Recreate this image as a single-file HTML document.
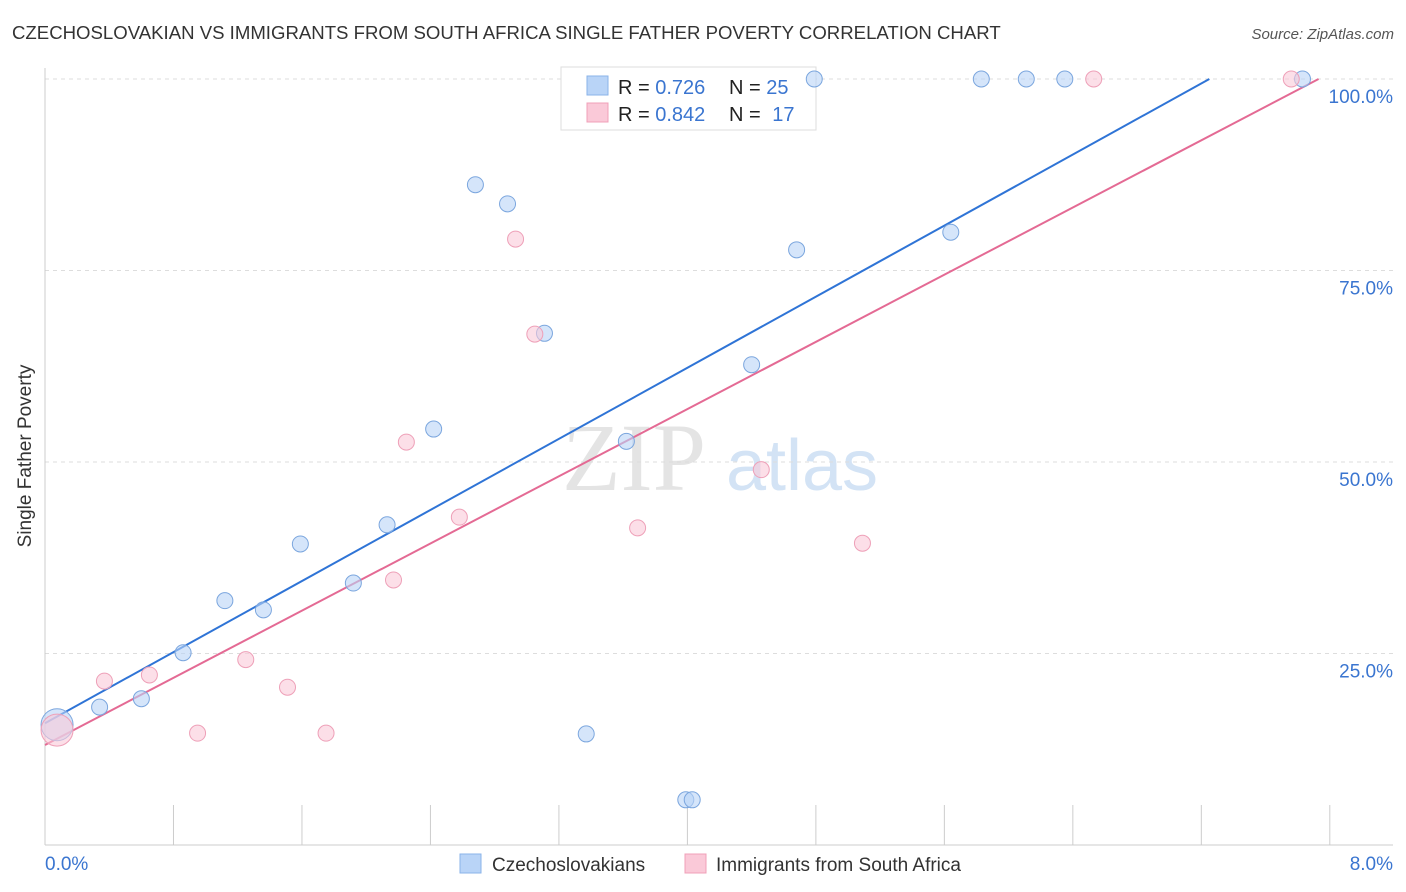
<!DOCTYPE html>
<html><head><meta charset="utf-8"><style>
body{margin:0;background:#fff;font-family:"Liberation Sans",sans-serif}
svg{display:block}
</style></head><body>
<svg id="c" width="1406" height="892" xmlns="http://www.w3.org/2000/svg">
<text x="12" y="39" font-size="18.6" fill="#333">CZECHOSLOVAKIAN VS IMMIGRANTS FROM SOUTH AFRICA SINGLE FATHER POVERTY CORRELATION CHART</text>
<text x="1394" y="39" font-size="15" fill="#555" font-style="italic" text-anchor="end">Source: ZipAtlas.com</text>
<text x="31" y="456" font-size="19" fill="#333" text-anchor="middle" transform="rotate(-90 31 456)">Single Father Poverty</text>
<g><text x="634" y="490" font-size="96" font-family="Liberation Serif" fill="#e4e4e4" text-anchor="middle">ZIP</text><text x="802" y="490" font-size="72" fill="#d3e3f5" text-anchor="middle">atlas</text></g>
<g id="grid"></g><g id="axes"></g>
<g>
<rect x="561" y="67" width="255" height="63" fill="#fff" stroke="#ddd"/>
<rect x="587" y="76" width="21" height="19" fill="#b9d4f7" stroke="#8ab3e8"/>
<rect x="587" y="103" width="21" height="19" fill="#fac9d8" stroke="#f0a0b8"/>
<text x="618" y="94" font-size="20" fill="#222">R = <tspan fill="#3a75d0">0.726</tspan></text>
<text x="729" y="94" font-size="20" fill="#222">N = <tspan fill="#3a75d0">25</tspan></text>
<text x="618" y="121" font-size="20" fill="#222">R = <tspan fill="#3a75d0">0.842</tspan></text>
<text x="729" y="121" font-size="20" fill="#222">N = <tspan fill="#3a75d0" dx="6">17</tspan></text>
</g>
<g id="lines"></g><g id="pts"></g>
<g>
<rect x="460" y="854" width="21" height="19" fill="#b9d4f7" stroke="#8ab3e8"/>
<text x="492" y="871" font-size="19" fill="#333">Czechoslovakians</text>
<rect x="685" y="854" width="21" height="19" fill="#fac9d8" stroke="#f0a0b8"/>
<text x="716" y="871" font-size="19" fill="#333">Immigrants from South Africa</text>
</g>
</svg>
<script>
const yTicks=[25,50,75,100];
const yTickLabels=["25.0%","50.0%","75.0%","100.0%"];
const xTickLabels=["0.0%","8.0%"];
const blueX=[0.075,0.34,0.60,0.86,1.12,1.36,1.59,1.92,2.13,2.42,2.68,2.88,3.11,3.37,3.62,3.99,4.03,4.40,4.68,4.79,5.64,5.83,6.11,6.35,7.83];
const blueY=[15.7,18.0,19.1,25.1,31.9,30.7,39.3,34.2,41.8,54.3,86.2,83.7,66.8,14.5,52.7,5.9,5.9,62.7,77.7,100,80.0,100,100,100,100];
const pinkX=[0.075,0.37,0.65,0.95,1.25,1.51,1.75,2.17,2.25,2.58,2.93,3.05,3.69,4.46,5.09,6.53,7.76];
const pinkY=[15.0,21.4,22.2,14.6,24.2,20.6,14.6,34.6,52.6,42.8,79.1,66.7,41.4,49.0,39.4,100,100];
const blueLine=[[0,15.9],[7.25,100]];
const pinkLine=[[0,13.05],[7.93,100]];
const NS="http://www.w3.org/2000/svg";
const X=v=>45+v*160.6, Y=v=>845-v*7.66;
function mk(t,a,p){const e=document.createElementNS(NS,t);for(const k in a)e.setAttribute(k,a[k]);p.appendChild(e);return e;}
const g=document.getElementById('grid'),ax=document.getElementById('axes'),ln=document.getElementById('lines'),pt=document.getElementById('pts');
yTicks.forEach((t,i)=>{
 const l=mk('line',{x1:45,x2:1393,y1:Y(t),y2:Y(t),stroke:'#ddd','stroke-dasharray':'4,4'},g);
 
 
 const tx=mk('text',{x:1393,y:Y(t)+24,'font-size':19,fill:'#3a75d0','text-anchor':'end'},ax);tx.textContent=yTickLabels[i];
 
 
});
mk('line',{x1:45,x2:45,y1:68,y2:845,stroke:'#ccc'},ax);
mk('line',{x1:45,x2:1393,y1:845,y2:845,stroke:'#ccc'},ax);
for(let i=1;i<=10;i++){const t=mk('line',{x1:X(i*0.8),x2:X(i*0.8),y1:805,y2:845,stroke:'#ccc'},ax);
 
 }
[[0,45,'start'],[8,1393,'end']].forEach((d,i)=>{const t=mk('text',{x:d[1],y:870,'font-size':19,fill:'#3a75d0','text-anchor':d[2]},ax);t.textContent=xTickLabels[i];
 
 });
function pts(xs,ys,f,s,name){xs.forEach((x,i)=>{const c=mk('circle',{cx:X(x),cy:Y(ys[i]),r:i==0?16:8,fill:f,stroke:s,'fill-opacity':0.6},pt);
 
 });}
pts(blueX,blueY,'#b9d4f7','#7ba6de','point-czechoslovakian');
pts(pinkX,pinkY,'#fac9d8','#eea0b8','point-south-africa');
const a=mk('line',{x1:X(blueLine[0][0]),y1:Y(blueLine[0][1]),x2:X(blueLine[1][0]),y2:Y(blueLine[1][1]),stroke:'#2f74d6','stroke-width':2},ln);


const b=mk('line',{x1:X(pinkLine[0][0]),y1:Y(pinkLine[0][1]),x2:X(pinkLine[1][0]),y2:Y(pinkLine[1][1]),stroke:'#e46a94','stroke-width':2},ln);


</script>
</body></html>
